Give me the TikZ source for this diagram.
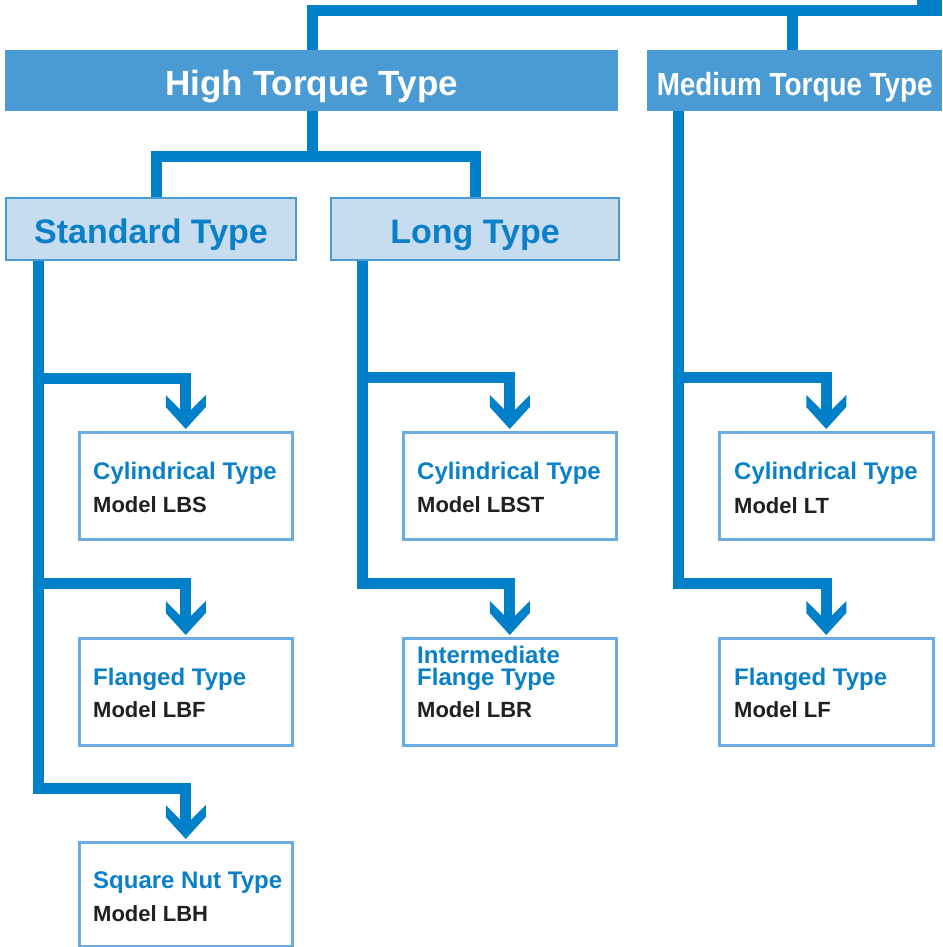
\documentclass[tikz,border=0pt]{standalone}
\usepackage{fontspec}
\setmainfont{Liberation Sans}
\usetikzlibrary{calc}
\definecolor{lineblue}{RGB}{0,128,200}
\definecolor{headblue}{RGB}{74,155,212}
\definecolor{lightfill}{RGB}{200,220,240}
\definecolor{subborder}{RGB}{74,155,212}
\definecolor{boxborder}{RGB}{108,172,224}
\definecolor{titleblue}{RGB}{10,128,200}
\definecolor{modelblack}{RGB}{35,31,32}
\tikzset{
  x=1pt, y=-1pt,
  conn/.style={draw=lineblue, line width=11pt, line join=miter, line cap=butt},
  headbox/.style={fill=headblue, draw=none, inner sep=0pt, anchor=north west,
    minimum height=60.7pt, text height=29.3pt, text depth=0pt, text=white,
    font=\bfseries\fontsize{35}{35}\selectfont},
  subbox/.style={fill=lightfill, draw=subborder, line width=2pt, inner sep=0pt,
    anchor=north west, minimum height=62pt, text height=28pt, text depth=0pt,
    text=titleblue, font=\bfseries\fontsize{34}{34}\selectfont},
  modelbox/.style={fill=white, draw=boxborder, line width=2.5pt, inner sep=0pt,
    anchor=north west, minimum width=213pt, minimum height=107pt},
  ttl/.style={anchor=base west, inner sep=0pt, text=titleblue,
    font=\bfseries\fontsize{24}{22}\selectfont},
  mdl/.style={anchor=base west, inner sep=0pt, text=modelblack,
    font=\bfseries\fontsize{22}{22}\selectfont},
  chev/.pic={\fill[lineblue] (0,0) -- (-20,-22) -- (-20,-34) -- (-5.5,-19.5)
     -- (5.5,-19.5) -- (20,-34) -- (20,-22) -- cycle;}
}
\begin{document}
\begin{tikzpicture}
\useasboundingbox (0,0) rectangle (942,947);
\clip (0,0) rectangle (942,947);
\fill[white] (0,0) rectangle (942,947);

% header boxes
\node[headbox, minimum width=613pt] (high) at (5,50) {High Torque Type};
\node[headbox, minimum width=295pt] (med) at (647,50)
  {\scalebox{0.87}[1]{\fontsize{32}{32}\selectfont Medium Torque Type}};

% sub boxes
\node[subbox, minimum width=290pt] (std) at (5,197) {Standard Type};
\node[subbox, minimum width=288pt] (long) at (330,197) {Long Type};

% model boxes
\node[modelbox] (lbs) at (78,431) {};
\node[modelbox] (lbf) at (78,637) {};
\node[modelbox, minimum height=104pt] (lbh) at (78,841) {};
\node[modelbox] (lbst) at (402,431) {};
\node[modelbox] (lbr) at (402,637) {};
\node[modelbox, minimum width=214pt] (lt) at (718,431) {};
\node[modelbox, minimum width=214pt] (lf) at (718,637) {};

% texts in model boxes
\node[ttl] (lbsT) at ($(lbs.north west)+(15,48)$) {Cylindrical Type};
\node[mdl] (lbsM) at ($(lbs.north west)+(15,81)$) {Model LBS};
\node[ttl] (lbfT) at ($(lbf.north west)+(15,48)$) {Flanged Type};
\node[mdl] (lbfM) at ($(lbf.north west)+(15,80)$) {Model LBF};
\node[ttl] (lbhT) at ($(lbh.north west)+(15,47)$) {Square Nut Type};
\node[mdl] (lbhM) at ($(lbh.north west)+(15,80)$) {Model LBH};
\node[ttl] (lbstT) at ($(lbst.north west)+(15,48)$) {Cylindrical Type};
\node[mdl] (lbstM) at ($(lbst.north west)+(15,81)$) {Model LBST};
\node[ttl] (lbrT1) at ($(lbr.north west)+(15,26)$) {Intermediate};
\node[ttl] (lbrT2) at ($(lbr.north west)+(15,48)$) {Flange Type};
\node[mdl] (lbrM) at ($(lbr.north west)+(15,80)$) {Model LBR};
\node[ttl] (ltT) at ($(lt.north west)+(16,48)$) {Cylindrical Type};
\node[mdl] (ltM) at ($(lt.north west)+(16,82)$) {Model LT};
\node[ttl] (lfT) at ($(lf.north west)+(16,48)$) {Flanged Type};
\node[mdl] (lfM) at ($(lf.north west)+(16,80)$) {Model LF};

% top connectors
\coordinate (topR) at (942,10.5);
\draw[conn] ($(high.north)+(1,0)$) -- ($(high.north)+(1,-39.5)$) -- (topR);
\draw[conn] ($(med.north)+(-2,0)$) -- ($(med.north)+(-2,-40)$);
\fill[lineblue] (917,0) rectangle (942,16);

% high -> standard / long
\draw[conn] ($(high.south)+(1,0)$) -- ($(high.south)+(1,45.3)$);
\draw[conn] ($(std.north)+(5.5,0)$) -- ($(std.north)+(5.5,-41)$) -| (long.north);

% standard column
\coordinate (stdT) at ($(std.south west)+(33.5,0)$);
\draw[conn] (stdT) |- ($(lbh.north)+(0,-53)$) -- ($(lbh.north)+(0,-14)$);
\draw[conn] (stdT |- 0,378) -| ($(lbs.north)+(0,-14)$);
\draw[conn] (stdT |- 0,583.5) -| ($(lbf.north)+(0,-14)$);
\pic at ($(lbs.north)+(0,-2)$) {chev};
\pic at ($(lbf.north)+(0,-2)$) {chev};
\pic at ($(lbh.north)+(0,-2)$) {chev};

% long column
\coordinate (longT) at ($(long.south west)+(32.5,0)$);
\draw[conn] (longT) |- ($(lbr.north)+(0,-53.5)$) -- ($(lbr.north)+(0,-14)$);
\draw[conn] (longT |- 0,377.5) -| ($(lbst.north)+(0,-14)$);
\pic at ($(lbst.north)+(0,-2)$) {chev};
\pic at ($(lbr.north)+(0,-2)$) {chev};

% medium column
\coordinate (medT) at ($(med.south west)+(31.5,0)$);
\draw[conn] (medT) |- ($(lf.north)+(0,-53.5)$) -- ($(lf.north)+(0,-14)$);
\draw[conn] (medT |- 0,377.5) -| ($(lt.north)+(0,-14)$);
\pic at ($(lt.north)+(0,-2)$) {chev};
\pic at ($(lf.north)+(0,-2)$) {chev};
\end{tikzpicture}
\end{document}
